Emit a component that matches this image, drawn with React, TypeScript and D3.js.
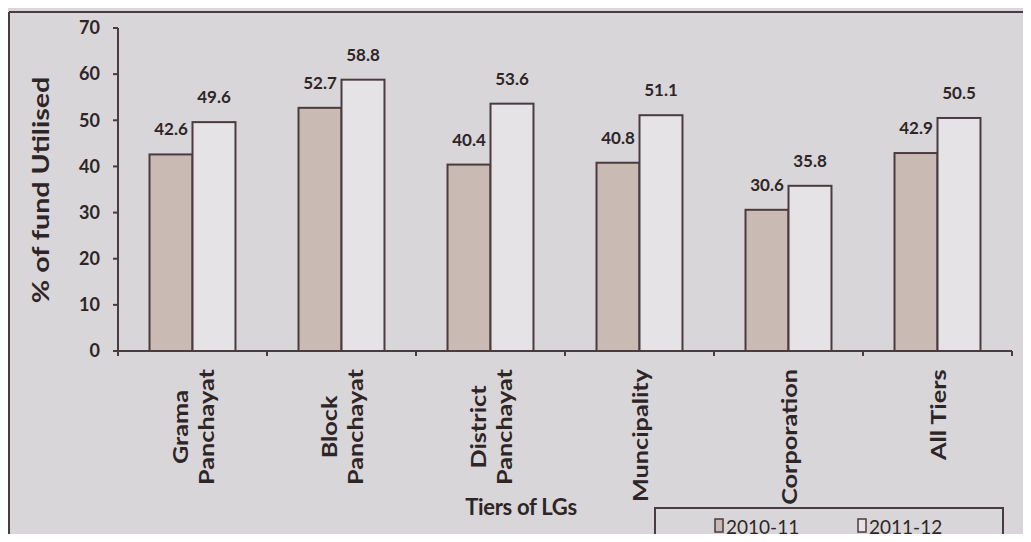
import React from "react";
import * as d3 from "d3";

const categories = ["Grama Panchayat", "Block Panchayat", "District Panchayat", "Muncipality", "Corporation", "All Tiers"];
const categoryLines = [["Grama", "Panchayat"], ["Block", "Panchayat"], ["District", "Panchayat"], ["Muncipality"], ["Corporation"], ["All Tiers"]];
const seriesNames = ["2010-11", "2011-12"];
const values2010 = [42.6, 52.7, 40.4, 40.8, 30.6, 42.9];
const values2011 = [49.6, 58.8, 53.6, 51.1, 35.8, 50.5];
const yTicks = [0, 10, 20, 30, 40, 50, 60, 70];

const W = 1031;
const H = 542;
const BG = "#d9d6d9";
const STROKE = "#4a3b3e";
const TEXT = "#2e2527";
const FILLS = ["#c9bab3", "#e6e3e6"];
const FONT = "Lato, 'Open Sans', sans-serif";

let canvasCtx: CanvasRenderingContext2D | null = null;
function measure(text: string, font: string): number {
  if (!canvasCtx) {
    const c = document.createElement("canvas");
    canvasCtx = c.getContext("2d");
  }
  if (!canvasCtx) return text.length * 10;
  canvasCtx.font = font;
  return canvasCtx.measureText(text).width;
}

export default function App() {
  const x0 = 118, x1 = 1012, yBase = 351, yTop = 28;
  const y = d3.scaleLinear().domain([0, 70]).range([yBase, yTop]);
  const x = d3.scaleBand<string>().domain(categories).range([x0, x1]).paddingInner(0.423).paddingOuter(0.2115);
  const xs = d3.scaleBand<string>().domain(seriesNames).range([0, x.bandwidth()]).padding(0);
  const step = x.step();
  const seriesValues = [values2010, values2011];

  const catFontSize = 21;
  const catFont = `bold ${catFontSize}px Lato`;
  const catStretch = 1.2;
  const lineGap = 26;
  const labelTop = 369;

  return (
    <div style={{ margin: -8, width: W, height: H, overflow: "hidden" }}>
      <svg width={W} height={H} style={{ display: "block", background: BG }} fontFamily={FONT}>
        <rect x={0} y={0} width={W} height={H} fill={BG} />
        {/* outer frame */}
        <line x1={9} x2={W} y1={12} y2={12} stroke={STROKE} strokeWidth={2} />
        <line x1={9} x2={9} y1={12} y2={H} stroke={STROKE} strokeWidth={2} />

        {/* bars */}
        {seriesValues.map((vals, si) =>
          categories.map((c, ci) => {
            const bx = (x(c) as number) + (xs(seriesNames[si]) as number);
            const by = y(vals[ci]);
            return (
              <rect key={`b${si}-${ci}`} x={bx} y={by} width={xs.bandwidth()} height={yBase - by}
                fill={FILLS[si]} stroke={STROKE} strokeWidth={2} />
            );
          })
        )}

        {/* value labels */}
        {seriesValues.map((vals, si) =>
          categories.map((c, ci) => {
            const cx = (x(c) as number) + (xs(seriesNames[si]) as number) + xs.bandwidth() / 2;
            return (
              <text key={`v${si}-${ci}`} x={cx} y={y(vals[ci]) - 19} textAnchor="middle"
                fontSize={17} fontWeight="bold" fill={TEXT}>
                {vals[ci].toFixed(1)}
              </text>
            );
          })
        )}

        {/* y axis */}
        <line x1={x0} x2={x0} y1={yTop} y2={yBase} stroke={STROKE} strokeWidth={2} />
        {yTicks.map((t) => (
          <g key={`yt${t}`}>
            <line x1={x0 - 5} x2={x0} y1={y(t)} y2={y(t)} stroke={STROKE} strokeWidth={2} />
            <text x={x0 - 18} y={y(t)} dy="0.35em" textAnchor="end" fontSize={18} fontWeight="bold" fill={TEXT}>
              {t}
            </text>
          </g>
        ))}

        {/* x axis */}
        <line x1={x0 - 5} x2={x1} y1={yBase} y2={yBase} stroke={STROKE} strokeWidth={2} />
        {categories.map((c, ci) => {
          const tx = (x(c) as number) - (step - x.bandwidth()) / 2;
          return <line key={`xt${ci}`} x1={tx} x2={tx} y1={yBase} y2={yBase + 5} stroke={STROKE} strokeWidth={2} />;
        })}
        <line x1={x1} x2={x1} y1={yBase} y2={yBase + 5} stroke={STROKE} strokeWidth={2} />

        {/* category labels */}
        {categories.map((c, ci) => {
          const lines = categoryLines[ci];
          const maxLen = Math.max(...lines.map((l) => measure(l, catFont)));
          const cx = (x(c) as number) + x.bandwidth() / 2;
          const n = lines.length;
          return (
            <g key={`cl${ci}`} transform={`translate(${cx},${labelTop}) rotate(-90) scale(${catStretch},1)`}>
              {lines.map((l, li) => (
                <text key={li} x={-maxLen / 2} y={(li - (n - 1) / 2) * lineGap} dominantBaseline="central"
                  textAnchor="middle" fontSize={catFontSize} fontWeight="bold" fill={TEXT}>
                  {l}
                </text>
              ))}
            </g>
          );
        })}

        {/* axis titles */}
        <text transform={`translate(40,190) rotate(-90) scale(1.3,1)`} textAnchor="middle" dominantBaseline="central"
          fontSize={22} fontWeight="bold" fill={TEXT}>
          % of fund Utilised
        </text>
        <text x={521} y={515} textAnchor="middle" fontSize={22} fontWeight="bold" fill={TEXT} letterSpacing={-0.3}>
          Tiers of LGs
        </text>

        {/* legend */}
        <rect x={655} y={508} width={348} height={32} fill={BG} stroke={STROKE} strokeWidth={2} />
        {seriesNames.map((s, si) => {
          const lx = [715, 858][si];
          return (
            <g key={`lg${si}`}>
              <rect x={lx} y={519} width={8} height={13} fill={FILLS[si]} stroke={STROKE} strokeWidth={1.5} />
              <text x={lx + 11} y={526} dominantBaseline="central" fontSize={19} fill={TEXT}>
                {s}
              </text>
            </g>
          );
        })}
      </svg>
    </div>
  );
}
